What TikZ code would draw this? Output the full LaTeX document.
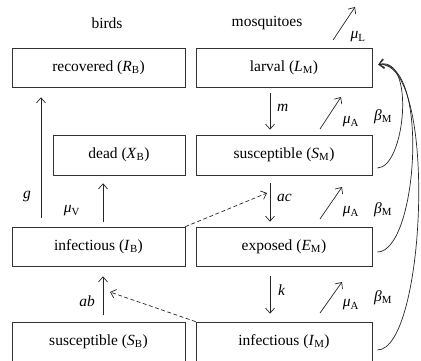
\documentclass[tikz,border=0pt]{standalone}
\usepackage{fontspec}
\setmainfont{Liberation Serif}
\usetikzlibrary{arrows.meta,calc}
\newcommand{\vr}[2]{\textit{#1}\textsubscript{#2}}
\begin{document}
\begin{tikzpicture}[x=1pt,y=-1pt,
  font=\rmfamily\fontsize{15.5}{18}\selectfont,
  box/.style={draw=black!80, line width=0.7pt, inner sep=0pt, minimum height=39pt},
  arr/.style={draw=black!85, line width=0.7pt, -{Straight Barb[length=5pt,width=9pt,line width=0.7pt]}},
  dsh/.style={arr, dash pattern=on 4pt off 2.5pt},
  lbl/.style={inner sep=0pt}]
\useasboundingbox (0,0) rectangle (421,360);

% headers
\node[lbl] (hb) at (107,23) {birds};
\node[lbl] (hm) at (267,23) {mosquitoes};

% boxes
\node[box, minimum width=173pt] (RB) at (98.5,67.5) {recovered (\vr{R}{B})};
\node[box, minimum width=176pt] (LM) at (284,67.5) {larval (\vr{L}{M})};
\node[box, minimum width=132pt, minimum height=40pt] (XB) at (119,155) {dead (\vr{X}{B})};
\node[box, minimum width=176pt, minimum height=40pt] (SM) at (284,155) {susceptible (\vr{S}{M})};
\node[box, minimum width=173pt] (IB) at (98.5,246.5) {infectious (\vr{I}{B})};
\node[box, minimum width=176pt] (EM) at (284,246.5) {exposed (\vr{E}{M})};
\node[box, minimum width=173pt] (SB) at (98.5,341.5) {susceptible (\vr{S}{B})};
\node[box, minimum width=176pt] (IM) at (284,341.5) {infectious (\vr{I}{M})};

% mosquito progression
\draw[arr] ([xshift=-14pt,yshift=-6pt]LM.south) -- ([xshift=-14pt,yshift=5pt]SM.north);
\draw[arr] ([xshift=-14pt,yshift=-8pt]SM.south) -- ([xshift=-14pt,yshift=5pt]EM.north);
\draw[arr] ([xshift=-14pt,yshift=-10pt]EM.south) -- ([xshift=-14pt,yshift=8pt]IM.north);
\node[lbl, anchor=west] (lm) at (277,108) {\textit{m}};
\node[lbl, anchor=west] (lac) at (277,198) {\textit{ac}};
\node[lbl, anchor=west] (lk) at (278,290) {\textit{k}};

% death arrows
\coordinate (uL0) at (333,40); \coordinate (uL1) at (355,7);
\coordinate (uA0) at (320,129); \coordinate (uA1) at (341,97);
\coordinate (uB0) at (320,219); \coordinate (uB1) at (342,187);
\coordinate (uC0) at (320,313); \coordinate (uC1) at (342,282);
\draw[arr] (uL0) -- (uL1);
\draw[arr] (uA0) -- (uA1);
\draw[arr] (uB0) -- (uB1);
\draw[arr] (uC0) -- (uC1);
\node[lbl] (tL) at (358,37) {\vr{μ}{L}};
\node[lbl] (tA) at (351,122) {\vr{μ}{A}};
\node[lbl] (tB) at (351,212) {\vr{μ}{A}};
\node[lbl] (tC) at (351,305) {\vr{μ}{A}};

% birth curves
\draw[arr] ($(SM.east)+(5,13)$) .. controls (405,168) and (416,55) .. ($(LM.east)+(6,-3)$);
\draw[arr] ($(EM.east)+(5,5.5)$) .. controls (418,252) and (430,58) .. ($(LM.east)+(6,-3)$);
\draw[arr] ($(IM.east)+(5,8.5)$) .. controls (426,350) and (438,60) .. ($(LM.east)+(6,-3)$);
\node[lbl] (b1) at (383,117) {\vr{β}{M}};
\node[lbl] (b2) at (383,210) {\vr{β}{M}};
\node[lbl] (b3) at (383,298) {\vr{β}{M}};

% bird arrows
\draw[arr] ([xshift=-57.5pt,yshift=9pt]IB.north) -- ([xshift=-57.5pt,yshift=-10pt]RB.south);
\draw[arr] ([xshift=4.5pt,yshift=5pt]IB.north) -- ([xshift=-16pt,yshift=-8pt]XB.south);
\draw[arr] ([xshift=4.5pt,yshift=7pt]SB.north) -- ([xshift=4.5pt,yshift=-10pt]IB.south);
\node[lbl] (lg) at (27,196) {\textit{g}};
\node[lbl] (lv) at (72,211) {\vr{μ}{V}};
\node[lbl] (lab) at (87,301) {\textit{ab}};

% infection (dashed)
\coordinate (dA) at (267,193);
\coordinate (dB) at (110,292);
\draw[dsh] (IB.north east) -- (dA);
\draw[dsh] (IM.north west) -- (dB);
\end{tikzpicture}
\end{document}
